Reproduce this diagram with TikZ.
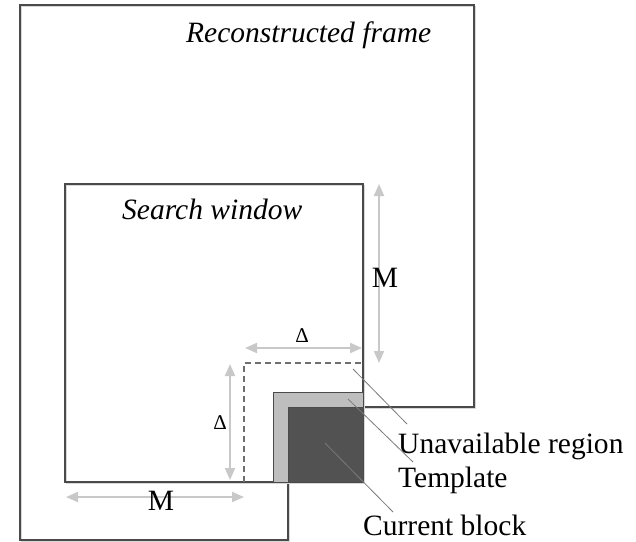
\documentclass[tikz,border=0pt]{standalone}
\usepackage{fontspec}
\setmainfont{Liberation Serif}
\usetikzlibrary{arrows.meta}

\definecolor{edge}{HTML}{4A4A4A}
\definecolor{shade}{HTML}{D8D8D8}
\definecolor{dimgray}{HTML}{C8C8C8}
\definecolor{tmplfill}{HTML}{BEBEBE}
\definecolor{blockfill}{HTML}{525252}
\definecolor{leader}{HTML}{7A7A7A}

\tikzset{
  outline/.style={draw=edge, line width=1.4pt},
  outshadow/.style={draw=shade, line width=1.4pt},
  dimarrow/.style={draw=dimgray, line width=2pt,
    {Triangle[length=12pt,width=10pt]}-{Triangle[length=12pt,width=10pt]}},
  leaderline/.style={draw=leader, line width=0.8pt},
  bigtext/.style={font=\fontsize{29.5}{34}\selectfont, inner sep=0pt},
  smalltext/.style={font=\fontsize{21}{24}\selectfont, inner sep=0pt},
}

\begin{document}
\begin{tikzpicture}[x=1pt, y=-1pt]
  \useasboundingbox (0,0) rectangle (636,541);

  % reconstructed (causal) area of the frame
  \draw[outshadow, shift={(1.5,1.5)}]
    (20,5) -- (474,5) -- (474,407) -- (363,407) -- (363,482)
    -- (288,482) -- (288,540) -- (20,540) -- cycle;
  \draw[outline]
    (20,5) -- (474,5) -- (474,407) -- (363,407) -- (363,482)
    -- (288,482) -- (288,540) -- (20,540) -- cycle;

  % search window
  \draw[outshadow, shift={(1.5,1.5)}] (65,184) rectangle (363,482);
  \draw[outline] (65,184) rectangle (363,482);

  % template (L-shaped border) and current block
  \filldraw[fill=tmplfill, draw=edge, line width=1pt] (273,392) rectangle (363,482);
  \filldraw[fill=blockfill, draw=edge, line width=1pt] (288,407) rectangle (363,482);

  % boundary of the unavailable region
  \draw[draw=edge!80, line width=1.2pt, dash pattern=on 6pt off 4pt]
    (244,482) -- (244,363) -- (363,363);

  % dimension markers
  \coordinate (mtop) at (379,184);
  \coordinate (mbot) at (379,363);
  \coordinate (mleft) at (66,497);
  \coordinate (mright) at (244,497);
  \coordinate (dtl) at (245,348);
  \coordinate (dtr) at (362,348);
  \coordinate (dlt) at (230,364);
  \coordinate (dlb) at (230,480);
  \draw[dimarrow] (mtop) -- (mbot);
  \draw[dimarrow] (mleft) -- (mright);
  \draw[dimarrow] (dtl) -- (dtr);
  \draw[dimarrow] (dlt) -- (dlb);

  \node[bigtext, anchor=base] (mlabelr) at (385,287) {M};
  \node[bigtext, anchor=base] (mlabelb) at (161,510) {M};
  \node[smalltext, anchor=base] (dlabelt) at (302,342) {Δ};
  \node[smalltext, anchor=base] (dlabell) at (220,429) {Δ};

  % titles
  \node[bigtext, anchor=base west, font=\fontsize{29.5}{34}\selectfont\itshape]
    (frametitle) at (186,42) {Reconstructed frame};
  \node[bigtext, anchor=base west, font=\fontsize{29.5}{34}\selectfont\itshape]
    (wintitle) at (122,219) {Search window};

  % callouts
  \node[bigtext, anchor=base west] (unavail) at (398,453) {Unavailable region};
  \node[bigtext, anchor=base west] (tmpl) at (398,487) {Template};
  \node[bigtext, anchor=base west] (curr) at (363,535) {Current block};

  \coordinate (pu) at (353,369);
  \coordinate (pt) at (348,399);
  \coordinate (pc) at (325,443);
  \coordinate (eu) at (407,424);
  \coordinate (et) at (413,462);
  \coordinate (ec) at (393,512);
  \draw[leaderline] (pu) -- (eu);
  \draw[leaderline] (pt) -- (et);
  \draw[leaderline] (pc) -- (ec);
\end{tikzpicture}
\end{document}
